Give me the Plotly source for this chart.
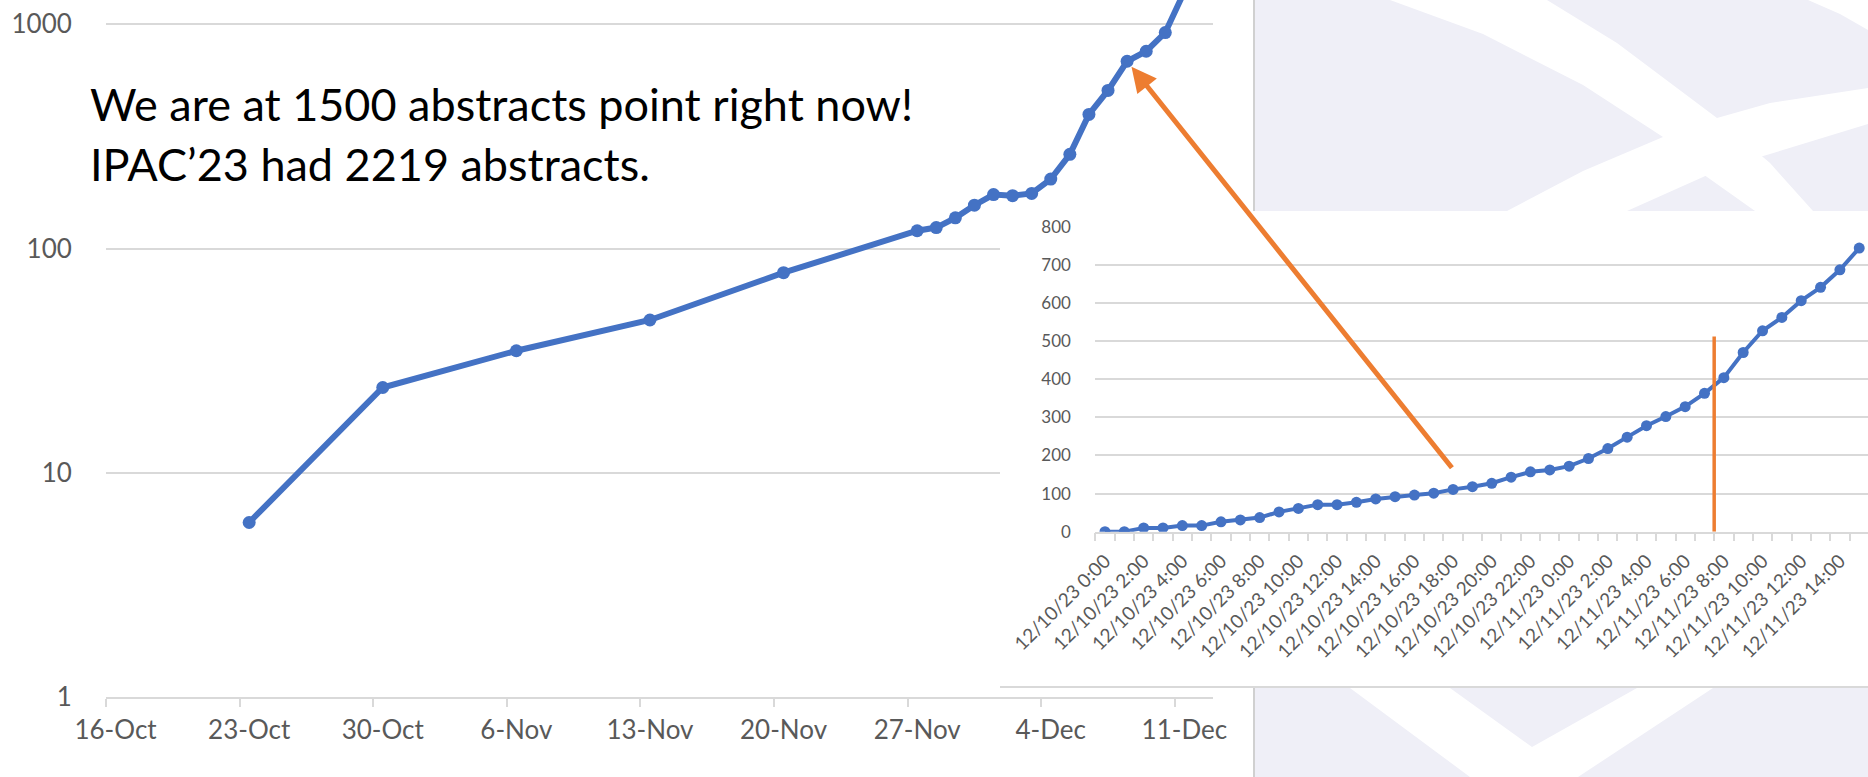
import math
from datetime import datetime, timedelta
import pandas as pd
import plotly.graph_objects as go

W, H = 1868, 777

# ---------------- data ----------------
# main chart (log scale): cumulative abstracts per day
main_dates = ['2023-10-23', '2023-10-30', '2023-11-06', '2023-11-13', '2023-11-20',
              '2023-11-27', '2023-11-28', '2023-11-29', '2023-11-30', '2023-12-01',
              '2023-12-02', '2023-12-03', '2023-12-04', '2023-12-05', '2023-12-06',
              '2023-12-07', '2023-12-08', '2023-12-09', '2023-12-10', '2023-12-11']
main_values = [6, 24, 35, 48, 78,
               120, 124, 137, 156, 174,
               172, 176, 204, 263, 396,
               507, 684, 758, 918, 1400]
main_tick_dates = ['2023-10-16', '2023-10-23', '2023-10-30', '2023-11-06', '2023-11-13',
                   '2023-11-20', '2023-11-27', '2023-12-04', '2023-12-11']
main_tick_labels = ['16-Oct', '23-Oct', '30-Oct', '6-Nov', '13-Nov',
                    '20-Nov', '27-Nov', '4-Dec', '11-Dec']
main_y_ticks = [1, 10, 100, 1000]

# inset chart (linear): hourly cumulative abstracts, 12/10 0:00 .. 12/11 15:00
inset_times = pd.date_range('2023-12-10 00:00', periods=40, freq='h')
inset_values = [0, 0, 10, 10, 16, 16, 26, 31, 37, 52,
                61, 71, 71, 77, 86, 92, 96, 101, 111, 118,
                127, 143, 157, 162, 172, 192, 218, 248, 278, 302,
                328, 363, 404, 470, 527, 562, 606, 641, 687, 744]
inset_tick_labels = ['12/10/23 0:00', '12/10/23 2:00', '12/10/23 4:00', '12/10/23 6:00',
                     '12/10/23 8:00', '12/10/23 10:00', '12/10/23 12:00', '12/10/23 14:00',
                     '12/10/23 16:00', '12/10/23 18:00', '12/10/23 20:00', '12/10/23 22:00',
                     '12/11/23 0:00', '12/11/23 2:00', '12/11/23 4:00', '12/11/23 6:00',
                     '12/11/23 8:00', '12/11/23 10:00', '12/11/23 12:00', '12/11/23 14:00']
inset_tick_vals = list(inset_times[::2])

marker_time = '2023-12-11 07:30'   # orange vertical marker in the inset
marker_top = 512

arrow_date = '2023-12-08'          # point the orange arrow points at
arrow_value = 684

note_lines = ['We are at 1500 abstracts point right now!', 'IPAC\u201923 had 2219 abstracts.']

# ---------------- style ----------------
BLUE = '#4472C4'
ORANGE = '#ED7D31'
GRID = '#D9D9D9'
TICK = '#595959'
LAV = '#EFEFF7'
FONT = 'Lato'


def fx(x):
    return x / W


def fy(y):
    return 1 - y / H


def poly(points):
    return 'M ' + ' L '.join(f'{fx(x):.5f},{fy(y):.5f}' for x, y in points) + ' Z'


fig = go.Figure()

# main series
fig.add_trace(go.Scatter(
    x=main_dates, y=main_values, mode='lines+markers',
    line=dict(color=BLUE, width=6), marker=dict(color=BLUE, size=13),
    xaxis='x', yaxis='y', hoverinfo='skip', showlegend=False))

# empty trace that anchors the cover subplot
fig.add_trace(go.Scatter(x=[], y=[], xaxis='x2', yaxis='y2', showlegend=False, hoverinfo='skip'))

# inset series
fig.add_trace(go.Scatter(
    x=inset_times, y=inset_values, mode='lines+markers',
    line=dict(color=BLUE, width=4), marker=dict(color=BLUE, size=11),
    xaxis='x3', yaxis='y3', hoverinfo='skip', showlegend=False))

shapes = []
# lavender slide background on the right
shapes.append(dict(type='rect', xref='paper', yref='paper', x0=fx(1255), x1=1, y0=0, y1=1,
                   fillcolor=LAV, line=dict(width=0), layer='below'))
# white watermark bands (top)
band1 = [(1390, 0), (1547, 0), (1617, 43), (1717, 118), (1770, 163), (1813, 211),
         (1755, 211), (1700, 172), (1663, 137), (1583, 85), (1483, 34)]
band2 = [(1507, 211), (1583, 171), (1663, 137), (1717, 118), (1770, 103), (1868, 88),
         (1868, 124), (1760, 157), (1712, 173), (1627, 211)]
band4 = [(1808, 0), (1868, 0), (1868, 30), (1840, 14)]
# white watermark V (bottom)
band3 = [(1350, 688), (1450, 688), (1532, 747), (1637, 688), (1713, 688),
         (1578, 777), (1470, 777)]
for b in (band1, band2, band4, band3):
    shapes.append(dict(type='path', xref='paper', yref='paper', path=poly(b),
                       fillcolor='white', line=dict(width=0), layer='below'))
# border of the main chart object
shapes.append(dict(type='line', xref='paper', yref='paper', x0=fx(1254), x1=fx(1254), y0=0, y1=1,
                   line=dict(color='#D0D0D0', width=2), layer='below'))
# bottom border of the inset object
shapes.append(dict(type='line', xref='paper', yref='paper', x0=fx(1000), x1=1, y0=fy(687), y1=fy(687),
                   line=dict(color=GRID, width=2), layer='below'))
# white cover for the inset (lives in the cover subplot, above the main chart)
shapes.append(dict(type='rect', xref='x2', yref='y2', x0=0, x1=1, y0=0, y1=1,
                   fillcolor='white', line=dict(width=0), layer='below'))
# orange vertical marker in inset
shapes.append(dict(type='line', xref='x3', yref='y3', x0=marker_time, x1=marker_time,
                   y0=0, y1=marker_top, line=dict(color=ORANGE, width=3.5), layer='above'))

annotations = [
    dict(text=note_lines[0], xref='paper', yref='paper', x=fx(88), y=fy(104), xanchor='left',
         yanchor='middle', showarrow=False, font=dict(family=FONT, size=45, color='black')),
    dict(text=note_lines[1], xref='paper', yref='paper', x=fx(88), y=fy(164), xanchor='left',
         yanchor='middle', showarrow=False, font=dict(family=FONT, size=45, color='black')),
    dict(text='', xref='x', yref='y', x=arrow_date, y=math.log10(arrow_value),
         ax=326, ay=408, axref='pixel', ayref='pixel', showarrow=True, arrowhead=2,
         arrowsize=1, arrowwidth=5, arrowcolor=ORANGE, standoff=7),
]

inset_start = datetime(2023, 12, 9, 23, 30)
inset_end = inset_start + timedelta(hours=(W - 1095.3) / 19.34)

fig.update_layout(
    width=W, height=H, margin=dict(l=0, r=0, t=0, b=0, pad=0, autoexpand=False),
    paper_bgcolor='white', plot_bgcolor='rgba(0,0,0,0)',
    font=dict(family=FONT, color=TICK),
    showlegend=False, shapes=shapes, annotations=annotations,
    xaxis=dict(type='date', domain=[fx(106), fx(1213)], automargin=False,
               range=['2023-10-15 12:00', '2023-12-12 12:00'],
               tickmode='array', tickvals=main_tick_dates, ticktext=main_tick_labels,
               ticks='', showgrid=False, zeroline=False,
               showline=True, linecolor=GRID, linewidth=1.5,
               tickfont=dict(family=FONT, size=26, color=TICK), ticklabelstandoff=9,
               minor=dict(ticks='outside', ticklen=8, tickcolor=GRID, tickwidth=1.5,
                          tick0='2023-10-15 12:00', dtick=7 * 86400000, showgrid=False),
               anchor='y', fixedrange=True),
    yaxis=dict(type='log', domain=[1 - 697 / H, 1], range=[0, 3 + 24.3 / 224.7], automargin=False,
               tickmode='array', tickvals=main_y_ticks, ticktext=[str(v) for v in main_y_ticks],
               ticks='outside', ticklen=28, tickcolor='rgba(0,0,0,0)',
               showgrid=True, gridcolor=GRID, gridwidth=1.5, zeroline=False, showline=False,
               tickfont=dict(family=FONT, size=26, color=TICK), anchor='x', fixedrange=True),
    xaxis2=dict(domain=[fx(1000), 1], range=[0, 1], visible=False, anchor='y2',
                automargin=False, fixedrange=True),
    yaxis2=dict(domain=[fy(686), fy(211)], range=[0, 1], visible=False, anchor='x2',
                automargin=False, fixedrange=True),
    xaxis3=dict(type='date', domain=[fx(1095.3), 1], range=[inset_start, inset_end], automargin=False,
                tickmode='array', tickvals=inset_tick_vals, ticktext=inset_tick_labels,
                tickangle=-45, ticks='', showgrid=False, zeroline=False,
                showline=True, linecolor=GRID, linewidth=1.5,
                tickfont=dict(family=FONT, size=19, color=TICK), ticklabelstandoff=9,
                minor=dict(ticks='outside', ticklen=8, tickcolor=GRID, tickwidth=1.5,
                           tick0='2023-12-09 23:30', dtick=3600000, showgrid=False),
                anchor='y3', fixedrange=True),
    yaxis3=dict(domain=[fy(531.7), fy(226.7)], range=[0, 800], dtick=100, tick0=0, automargin=False,
                ticks='outside', ticklen=20, tickcolor='rgba(0,0,0,0)',
                showgrid=True, gridcolor=GRID, gridwidth=1.5, zeroline=False, showline=False,
                tickfont=dict(family=FONT, size=17, color=TICK), anchor='x3', fixedrange=True),
)

fig.write_html('out.html', config={'displayModeBar': False},
               post_script="document.body.style.margin='0';document.body.style.padding='0';document.body.style.overflow='hidden';")
